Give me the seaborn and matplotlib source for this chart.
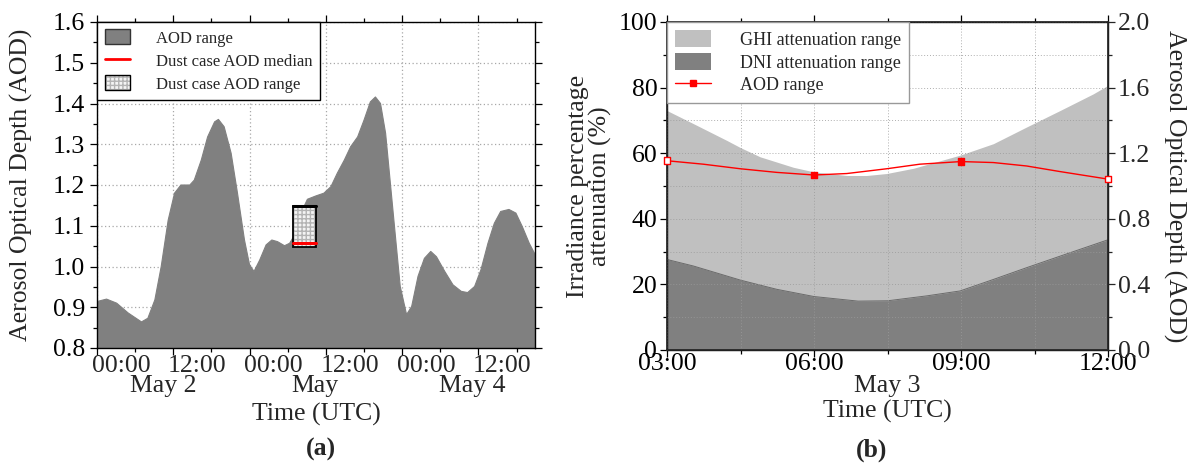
import numpy as np
import pandas as pd
import matplotlib
matplotlib.use("Agg")
import matplotlib.pyplot as plt
import matplotlib.transforms as mtransforms
from matplotlib.patches import Patch, Rectangle
from matplotlib.lines import Line2D
from matplotlib.ticker import MultipleLocator, FormatStrFormatter, NullFormatter
from matplotlib.legend_handler import HandlerTuple
import seaborn as sns

# ---------------- data ----------------
# (a) AOD, hours since May 2 00:00 UTC
aod_hours = [0, 1.5, 3.1, 4.9, 7.0, 8.0, 9.1, 10.1, 11.2, 12.2, 13.2, 14.6, 15.3,
             16.4, 17.4, 18.5, 19.1, 20.0, 21.1, 22.1, 23.2, 24.0, 24.7, 25.6,
             26.6, 27.5, 28.4, 29.5, 30.3, 31.0, 31.7, 32.5, 33.1, 34.4, 35.7,
             36.8, 37.8, 38.9, 39.9, 41.0, 42.0, 43.0, 43.8, 44.6, 45.4, 46.2,
             47.0, 47.7, 48.7, 49.5, 50.5, 51.5, 52.5, 53.4, 54.7, 56.0, 57.3,
             58.3, 59.4, 60.4, 61.5, 62.5, 63.5, 64.8, 65.9, 66.9, 68.0, 68.9]
aod_values = [0.914, 0.920, 0.910, 0.886, 0.864, 0.873, 0.918, 1.0, 1.114, 1.180,
              1.2, 1.2, 1.212, 1.261, 1.318, 1.355, 1.361, 1.343, 1.278, 1.180,
              1.065, 1.004, 0.988, 1.016, 1.053, 1.065, 1.061, 1.051, 1.057, 1.075,
              1.11, 1.145, 1.165, 1.173, 1.180, 1.196, 1.229, 1.261, 1.294, 1.318,
              1.359, 1.404, 1.416, 1.400, 1.327, 1.196, 1.065, 0.951, 0.882, 0.902,
              0.976, 1.020, 1.037, 1.024, 0.988, 0.955, 0.939, 0.936, 0.951, 0.992,
              1.057, 1.106, 1.135, 1.140, 1.131, 1.098, 1.057, 1.030]
dust_start, dust_end = 30.9, 34.5
dust_min, dust_max, dust_median = 1.047, 1.149, 1.058
left_tick_labels = ["00:00", "12:00", "00:00", "12:00", "00:00", "12:00"]
left_day_labels = ["May 2", "May", "May 4"]

# (b) May 3, hour of day (UTC)
ghi_hours = [3, 3.54, 4.22, 4.5, 4.9, 5.58, 6, 6.67, 7.07, 7.48, 8.03, 8.98, 9.66,
             10.34, 11.02, 11.7, 12]
ghi_att = [73.0, 69.0, 63.9, 61.7, 58.9, 55.7, 54.3, 53.2, 53.2, 53.8, 55.4, 59.4,
           62.9, 68.0, 73.0, 78.1, 80.7]
dni_hours = [3, 3.54, 4.5, 5.24, 6, 6.9, 7.5, 8.3, 8.98, 9.66, 10.34, 11.02, 12]
dni_att = [27.6, 25.6, 21.3, 18.5, 16.3, 14.9, 15.0, 16.5, 18.0, 21.5, 25.1, 28.6, 33.6]
aod_line_hours = [3, 3.74, 4.5, 5.24, 6, 6.67, 7.48, 8.16, 9, 9.66, 10.34, 11.02, 12]
aod_line_values = [1.154, 1.133, 1.105, 1.083, 1.067, 1.076, 1.105, 1.133, 1.149,
                   1.143, 1.122, 1.088, 1.042]
aod_marker_hours = [3, 6, 9, 12]
aod_marker_values = [1.154, 1.067, 1.149, 1.042]
right_tick_labels = ["03:00", "06:00", "09:00", "12:00"]

# ---------------- style ----------------
sns.set_theme(style="ticks")
plt.rcParams["font.family"] = ["Liberation Serif", "DejaVu Serif"]
FS = 18.5
W, H = 1189, 466
fig = plt.figure(figsize=(W / 100, H / 100), dpi=100)

def px_axes(l, t, r, b):
    return fig.add_axes([l / W, 1 - b / H, (r - l) / W, (b - t) / H])

grid_kw = dict(color="#a8a8a8", linestyle=(0, (1, 2)), linewidth=0.9)

# ================= (a) =================
ax1 = px_axes(97, 22, 535, 348)
df_a = pd.DataFrame({"hours": aod_hours, "aod": aod_values})
ax1.fill_between(df_a["hours"], 0, df_a["aod"], color="#808080", linewidth=0, zorder=2)
sns.lineplot(data=df_a, x="hours", y="aod", ax=ax1, color="#808080", linewidth=0.8, zorder=2)
ax1.set_xlim(0, 68.9)
ax1.set_ylim(0.8, 1.6)

hatch_kw = dict(facecolor="#f4f4f4", edgecolor="#b4b4b4", hatch="++++", linewidth=0)
ax1.add_patch(Rectangle((dust_start, dust_min), dust_end - dust_start, dust_max - dust_min,
                        zorder=3, **hatch_kw))
ax1.add_patch(Rectangle((dust_start, dust_min), dust_end - dust_start, dust_max - dust_min,
                        facecolor="none", edgecolor="black", linewidth=1.3, zorder=4))
ax1.plot([dust_start, dust_end], [dust_max, dust_max], color="black", lw=2.2, zorder=4)
ax1.plot([dust_start, dust_end], [dust_median, dust_median], color="red", lw=2.2, zorder=5)

ax1.set_xticks(np.arange(0, 68.9, 12))
ax1.xaxis.set_minor_locator(MultipleLocator(6))
ax1.xaxis.set_major_formatter(NullFormatter())
lab_off = mtransforms.ScaledTranslation(24 / 100, 0, fig.dpi_scale_trans)
for x, lab in zip(np.arange(0, 68.9, 12), left_tick_labels):
    ax1.text(x, -0.056, lab, transform=ax1.get_xaxis_transform() + lab_off,
             ha="center", va="center", fontsize=FS)
ax1.yaxis.set_major_locator(MultipleLocator(0.1))
ax1.yaxis.set_minor_locator(MultipleLocator(0.05))
ax1.yaxis.set_major_formatter(FormatStrFormatter("%.1f"))
ax1.set_axisbelow(True)
ax1.grid(True, which="major", **grid_kw)
day_pos = [12, 36, 60]
day_dx = [-10, -11, -6]
for x, lab, dx in zip(day_pos, left_day_labels, day_dx):
    ax1.text(x, -0.116, lab,
             transform=ax1.get_xaxis_transform() + mtransforms.ScaledTranslation(dx / 100, 0, fig.dpi_scale_trans),
             ha="center", va="center", fontsize=FS)
ax1.set_xlabel("Time (UTC)", fontsize=FS)
ax1.xaxis.set_label_coords(0.5, -0.168)
ax1.xaxis.label.set_va("top")
ax1.set_ylabel("Aerosol Optical Depth (AOD)", fontsize=FS)
ax1.yaxis.set_label_coords(-0.145, 0.5)

dust_handle = (Patch(**hatch_kw), Patch(facecolor="none", edgecolor="black", linewidth=1.0))
leg1 = ax1.legend(handles=[
    Patch(facecolor="#808080", edgecolor="#333333", linewidth=1.0),
    Line2D([0], [0], color="red", lw=2),
    dust_handle],
    labels=["AOD range", "Dust case AOD median", "Dust case AOD range"],
    handler_map={tuple: HandlerTuple(ndivide=1, pad=0)},
    loc="upper left", bbox_to_anchor=(0, 1), borderaxespad=0, fontsize=12,
    frameon=True, fancybox=False, framealpha=1, edgecolor="black",
    handlelength=1.5, handleheight=1.0, handletextpad=1.6, labelspacing=0.35,
    borderpad=0.45)
leg1.get_frame().set_linewidth(1.0)
leg1.set_zorder(10)

# ================= (b) =================
ax2 = px_axes(667, 22, 1108, 350)
df_g = pd.DataFrame({"hour": ghi_hours, "att": ghi_att})
df_d = pd.DataFrame({"hour": dni_hours, "att": dni_att})
ax2.fill_between(df_g["hour"], 0, df_g["att"], color="#c0c0c0", linewidth=0, zorder=1)
ax2.fill_between(df_d["hour"], 0, df_d["att"], color="#808080", linewidth=0, zorder=1.1)
sns.lineplot(data=df_d, x="hour", y="att", ax=ax2, color="#6a6a6a", linewidth=0.7, zorder=1.2)
ax2.set_xlim(3, 12)
ax2.set_ylim(0, 100)
ax2.set_xticks([3, 6, 9, 12])
ax2.set_xticklabels(right_tick_labels)
ax2.xaxis.set_minor_locator(MultipleLocator(1.5))
ax2.yaxis.set_major_locator(MultipleLocator(20))
ax2.yaxis.set_minor_locator(MultipleLocator(10))
ax2.set_axisbelow(False)
ax2.grid(True, which="both", color="#9a9a9a", linestyle=(0, (1, 2)), linewidth=0.7,
         alpha=0.8, zorder=1.5)
ax2.text(7.5, -0.11, "May 3", transform=ax2.get_xaxis_transform(), ha="center",
         va="center", fontsize=FS)
ax2.set_xlabel("Time (UTC)", fontsize=FS)
ax2.xaxis.set_label_coords(0.5, -0.152)
ax2.xaxis.label.set_va("top")
ax2.set_ylabel("Irradiance percentage\nattenuation (%)", fontsize=FS, linespacing=1.0)
ax2.yaxis.set_label_coords(-0.125, 0.5)

ax3 = ax2.twinx()
df_l = pd.DataFrame({"hour": aod_line_hours, "aod": aod_line_values})
sns.lineplot(data=df_l, x="hour", y="aod", ax=ax3, color="red", linewidth=1.0)
ax3.scatter(aod_marker_hours, aod_marker_values, marker="s", s=22,
            facecolors=["white", "red", "red", "white"], edgecolors="red", linewidths=1,
            zorder=5, clip_on=False)
ax3.set_ylim(0, 2.0)
ax3.yaxis.set_major_locator(MultipleLocator(0.4))
ax3.yaxis.set_minor_locator(MultipleLocator(0.2))
ax3.yaxis.set_major_formatter(FormatStrFormatter("%.1f"))
ax3.set_ylabel("Aerosol Optical Depth (AOD)", fontsize=FS, rotation=270, labelpad=26)
ax3.set_xlabel("")

leg2 = ax3.legend(handles=[
    Patch(facecolor="#c0c0c0", edgecolor="none", label="GHI attenuation range"),
    Patch(facecolor="#808080", edgecolor="none", label="DNI attenuation range"),
    Line2D([0], [0], color="red", lw=1, marker="s", markersize=5, label="AOD range")],
    loc="upper left", bbox_to_anchor=(0, 1), borderaxespad=0, fontsize=13,
    frameon=True, fancybox=False, framealpha=1, edgecolor="#999999",
    handlelength=2.0, handleheight=1.1, handletextpad=1.6, labelspacing=0.22,
    borderpad=0.45)
leg2.get_frame().set_linewidth(1.0)

# ticks
for ax in (ax1, ax2):
    ax.tick_params(which="both", direction="out", top=True, right=(ax is ax1),
                   labelsize=FS, width=0.9, colors="black")
    ax.tick_params(which="major", length=5)
    ax.tick_params(which="minor", length=3)
    for s in ax.spines.values():
        s.set_linewidth(1.0)
        s.set_color("black")
        s.set_visible(True)
ax2.tick_params(axis="x", pad=-3)
ax2.tick_params(axis="y", pad=2)
ax3.tick_params(which="both", direction="out", labelsize=FS, width=0.9, pad=2)
ax3.tick_params(which="major", length=5)
ax3.tick_params(which="minor", length=3)

fig.text(321 / W, 1 - 449 / H, "(a)", ha="center", va="center", fontsize=FS, fontweight="bold")
fig.text(872 / W, 1 - 450 / H, "(b)", ha="center", va="center", fontsize=FS, fontweight="bold")

fig.savefig("out.png", dpi=100)
